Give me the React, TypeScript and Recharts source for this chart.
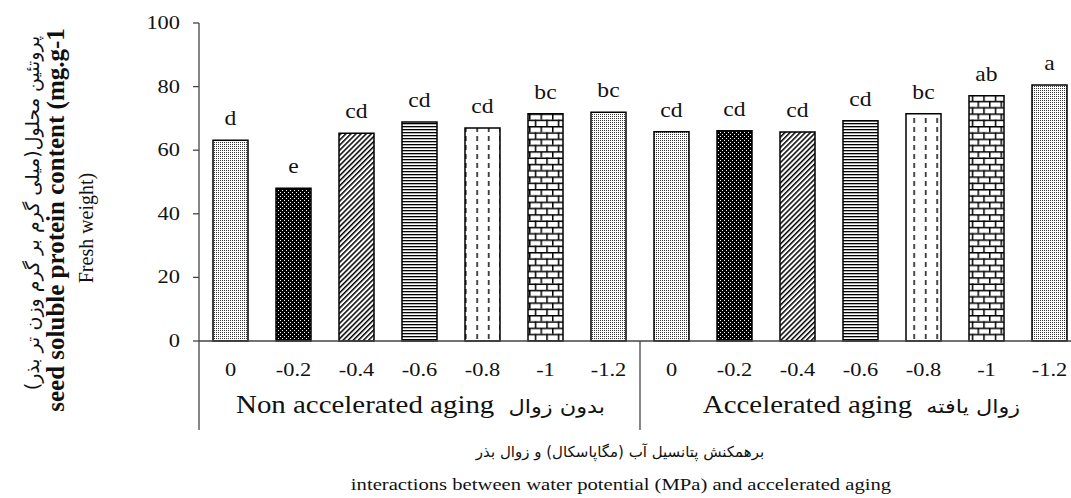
import { Bar, BarChart, Cell, LabelList, XAxis, YAxis, Label } from 'recharts';

const potentials = ['0', '-0.2', '-0.4', '-0.6', '-0.8', '-1', '-1.2'];
const nonAgedValues = [63.1, 48.0, 65.3, 68.9, 67.0, 71.5, 71.9];
const agedValues = [65.8, 66.1, 65.7, 69.3, 71.5, 77.1, 80.5];
const nonAgedLetters = ['d', 'e', 'cd', 'cd', 'cd', 'bc', 'bc'];
const agedLetters = ['cd', 'cd', 'cd', 'cd', 'bc', 'ab', 'a'];
const groupLabelsEn = ['Non accelerated aging', 'Accelerated aging'];
const groupLabelsFa = ['بدون زوال', 'زوال یافته'];
const yTicks = [0, 20, 40, 60, 80, 100];
const patternIds = ['stipple', 'blackdots', 'diag', 'hlines', 'vdash', 'brick', 'stipple'];

const data = [
  ...potentials.map((p, i) => ({ key: `n${i}`, potential: p, value: nonAgedValues[i], letter: nonAgedLetters[i], pattern: patternIds[i] })),
  ...potentials.map((p, i) => ({ key: `a${i}`, potential: p, value: agedValues[i], letter: agedLetters[i], pattern: patternIds[i] })),
];

const CHART_W = 1100;
const CHART_H = 498;
const Y_AXIS_W = 199;
const MARGIN = { top: 23, right: 19, bottom: 0, left: 0 };
const PLOT_W = CHART_W - Y_AXIS_W - MARGIN.right;
const BAND = PLOT_W / data.length;
const STRETCH = 1.18;
const SERIF = '"Liberation Serif", "Times New Roman", serif';
const ARABIC = '"DejaVu Sans", sans-serif';
const AXIS_COLOR = '#444';

// text in the source image is a little wider than it is tall
const SText = ({ x, y, size, anchor = 'middle', weight = 'normal', children }: any) => (
  <text
    transform={`translate(${x},${y}) scale(${STRETCH},1)`}
    textAnchor={anchor}
    fontFamily={SERIF}
    fontSize={size}
    fontWeight={weight}
    fill="#111"
  >
    {children}
  </text>
);

const YTick = ({ x, y, payload }: any) => (
  <SText x={x} y={y + 6} size={19} anchor="end">
    {payload.value}
  </SText>
);

const XTick = (props: any) => {
  const { x, y, payload } = props;
  const index = props.index ?? payload.index;
  const inGroup = index % potentials.length;
  const group = Math.floor(index / potentials.length);
  return (
    <g>
      <SText x={x} y={y + 35} size={19}>
        {potentials[inGroup]}
      </SText>
      {inGroup === 0 && (
        <line x1={x - BAND / 2} x2={x - BAND / 2} y1={y} y2={y + 89} stroke={AXIS_COLOR} strokeWidth={1.3} />
      )}
      {inGroup === 3 && (
        <SText x={x + 1} y={y + 72} size={24.5}>
          <tspan fontFamily={SERIF}>{groupLabelsEn[group]}</tspan>
          <tspan fontFamily={ARABIC} fontSize={19} dx={12}>
            {groupLabelsFa[group]}
          </tspan>
        </SText>
      )}
    </g>
  );
};

const LetterLabel = ({ x, y, width, value }: any) => (
  <SText x={x + width / 2} y={y - 15} size={20}>
    {value}
  </SText>
);

const YTitle = () => (
  <g>
    <text transform="translate(39,213) rotate(-90)" textAnchor="middle" fontFamily={ARABIC} fontSize={19} fill="#111">
      پروتئین محلول(میلی گرم بر گرم وزن تر بذر)
    </text>
    <text transform="translate(64,220) rotate(-90)" textAnchor="middle" fontFamily={SERIF} fontSize={25} fontWeight="bold" fill="#111">
      seed soluble protein content (mg.g-1
    </text>
    <text transform="translate(93,228) rotate(-90)" textAnchor="middle" fontFamily={SERIF} fontSize={20} fill="#111">
      Fresh weight)
    </text>
  </g>
);

const XTitle = () => (
  <g>
    <text x={620} y={457} textAnchor="middle" fontFamily={ARABIC} fontSize={15} fill="#111">
      برهمکنش پتانسیل آب (مگاپاسکال) و زوال بذر
    </text>
    <SText x={621} y={490} size={17.5}>
      interactions between water potential (MPa) and accelerated aging
    </SText>
  </g>
);

export default function App() {
  return (
    <div style={{ position: 'absolute', left: 0, top: 0, width: 1071, height: 498, overflow: 'hidden', background: '#fff' }}>
      <BarChart width={CHART_W} height={CHART_H} data={data} margin={MARGIN}>
        <defs>
          <pattern id="stipple" patternUnits="userSpaceOnUse" width={2} height={2}>
            <rect width={2} height={2} fill="#fff" />
            <rect width={1} height={1} fill="#333" />
          </pattern>
          <pattern id="blackdots" patternUnits="userSpaceOnUse" width={4} height={4}>
            <rect width={4} height={4} fill="#000" />
            <rect x={0} y={0} width={1} height={1} fill="#fff" />
            <rect x={2} y={2} width={1} height={1} fill="#fff" />
          </pattern>
          <pattern id="diag" patternUnits="userSpaceOnUse" width={3.6} height={3.6} patternTransform="rotate(45)">
            <rect width={3.6} height={3.6} fill="#fff" />
            <rect x={0} y={0} width={1.5} height={3.6} fill="#000" />
          </pattern>
          <pattern id="hlines" patternUnits="userSpaceOnUse" width={4} height={3}>
            <rect width={4} height={3} fill="#fff" />
            <rect x={0} y={0} width={4} height={1.3} fill="#000" />
          </pattern>
          <pattern id="vdash" patternUnits="userSpaceOnUse" width={11.5} height={9}>
            <rect width={11.5} height={9} fill="#fff" />
            <rect x={5} y={1} width={1.4} height={5} fill="#000" />
          </pattern>
          <pattern id="brick" patternUnits="userSpaceOnUse" width={11.5} height={12.6}>
            <rect width={11.5} height={12.6} fill="#fff" />
            <rect x={0} y={0} width={11.5} height={1.5} fill="#000" />
            <rect x={0} y={6.3} width={11.5} height={1.5} fill="#000" />
            <rect x={0} y={0} width={1.5} height={6.3} fill="#000" />
            <rect x={5.75} y={6.3} width={1.5} height={6.3} fill="#000" />
          </pattern>
        </defs>
        <XAxis
          dataKey="key"
          height={157}
          interval={0}
          tickLine={false}
          tickSize={0}
          tickMargin={0}
          axisLine={{ stroke: AXIS_COLOR, strokeWidth: 1.3 }}
          tick={<XTick />}
        >
          <Label content={<XTitle />} />
        </XAxis>
        <YAxis
          width={Y_AXIS_W}
          domain={[0, 100]}
          ticks={yTicks}
          tickSize={6}
          tickMargin={13}
          axisLine={{ stroke: AXIS_COLOR, strokeWidth: 1.3 }}
          tickLine={{ stroke: AXIS_COLOR, strokeWidth: 1.3 }}
          tick={<YTick />}
        >
          <Label content={<YTitle />} />
        </YAxis>
        <Bar dataKey="value" barSize={35} stroke="#000" strokeWidth={1.5} isAnimationActive={false}>
          {data.map((d) => (
            <Cell key={d.key} fill={`url(#${d.pattern})`} />
          ))}
          <LabelList dataKey="letter" content={<LetterLabel />} />
        </Bar>
      </BarChart>
    </div>
  );
}
